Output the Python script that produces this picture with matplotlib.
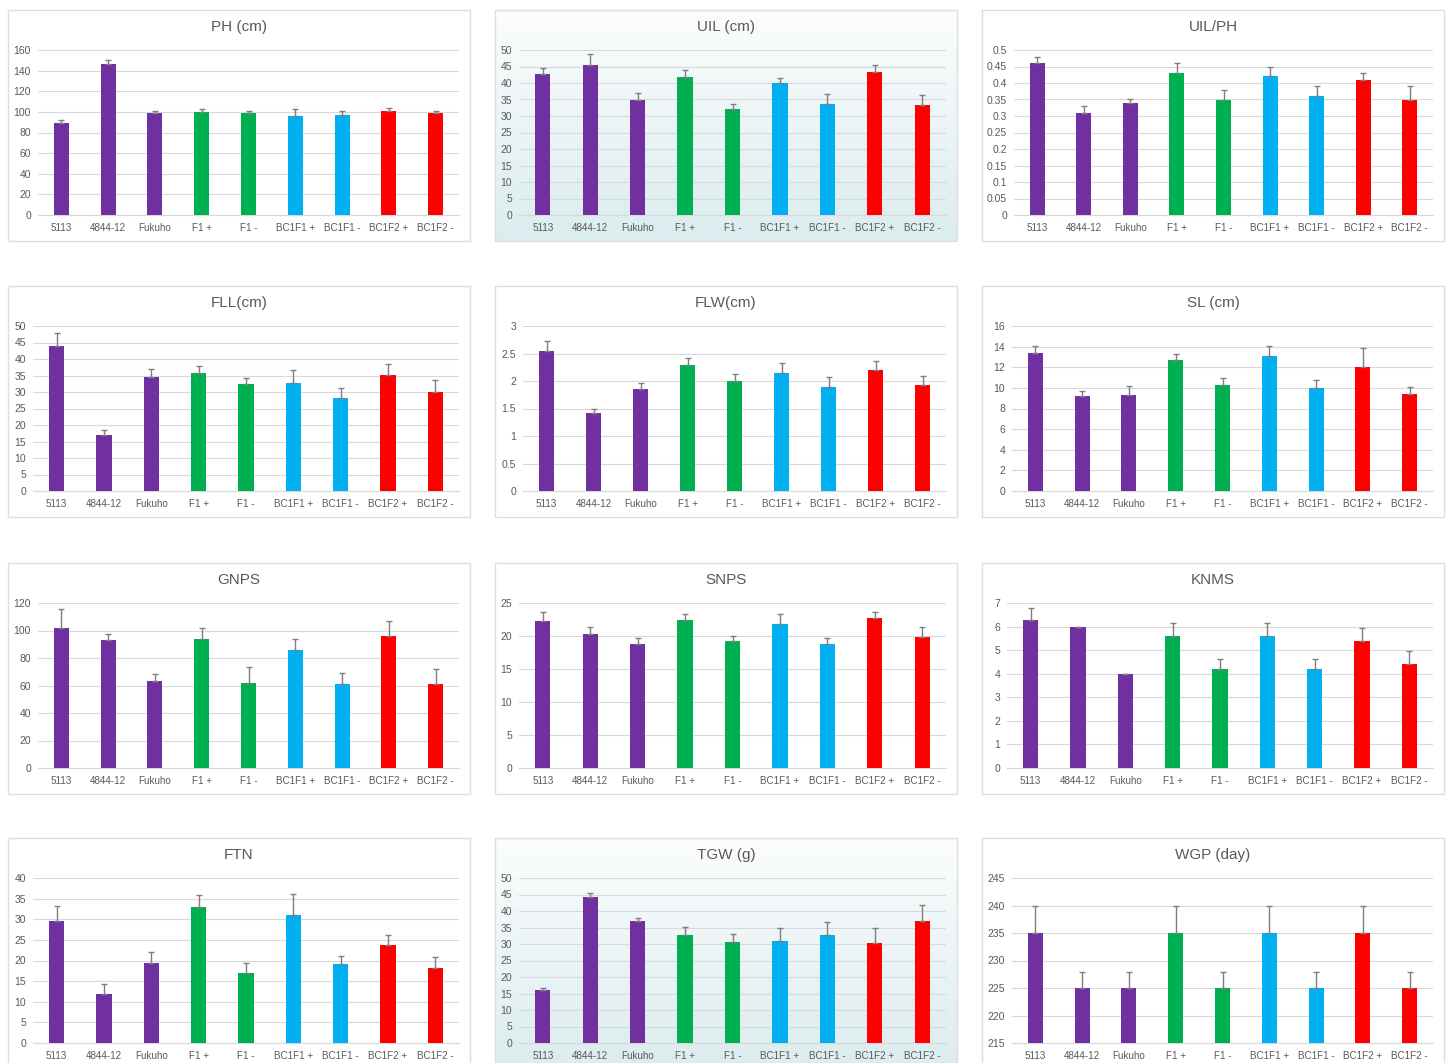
import matplotlib.pyplot as plt
import numpy as np
from matplotlib.colors import LinearSegmentedColormap
from matplotlib.patches import Rectangle

plt.rcParams['font.family'] = ['Liberation Sans', 'DejaVu Sans']

# categories and bar colours
lines = ['5113', '4844-12', 'Fukuho', 'F1 +', 'F1 -',
         'BC1F1 +', 'BC1F1 -', 'BC1F2 +', 'BC1F2 -']
bar_colors = ['#7030A0', '#7030A0', '#7030A0', '#00B050', '#00B050',
              '#00B0F0', '#00B0F0', '#FF0000', '#FF0000']

# means and (upper) standard errors
ph_mean = [89.5, 146.1, 98.6, 100.2, 99.2, 96.3, 97.3, 100.8, 98.9]
ph_err = [2.3, 3.9, 2.2, 2.6, 2.0, 6.2, 3.5, 3.2, 1.9]

uil_mean = [42.7, 45.5, 34.9, 41.9, 32.0, 40.0, 33.6, 43.3, 33.3]
uil_err = [1.9, 3.4, 2.0, 1.9, 1.5, 1.4, 3.0, 2.2, 3.0]

ratio_mean = [0.46, 0.31, 0.34, 0.43, 0.35, 0.42, 0.36, 0.41, 0.35]
ratio_err = [0.02, 0.02, 0.01, 0.03, 0.03, 0.03, 0.03, 0.02, 0.04]

fll_mean = [43.9, 17.0, 34.6, 35.8, 32.5, 32.7, 28.1, 35.3, 30.0]
fll_err = [3.9, 1.6, 2.5, 2.2, 1.8, 4.0, 3.2, 3.3, 3.5]

flw_mean = [2.54, 1.42, 1.85, 2.29, 2.00, 2.15, 1.89, 2.20, 1.92]
flw_err = [0.18, 0.08, 0.11, 0.13, 0.13, 0.17, 0.19, 0.17, 0.18]

sl_mean = [13.35, 9.26, 9.32, 12.74, 10.32, 13.13, 10.0, 12.0, 9.45]
sl_err = [0.75, 0.45, 0.9, 0.55, 0.6, 0.95, 0.8, 1.9, 0.65]

gnps_mean = [102.0, 92.8, 63.0, 93.6, 61.6, 86.0, 60.8, 96.0, 61.3]
gnps_err = [13.6, 4.7, 5.6, 8.2, 11.9, 7.8, 8.3, 10.9, 10.7]

snps_mean = [22.3, 20.35, 18.8, 22.4, 19.2, 21.8, 18.8, 22.8, 19.8]
snps_err = [1.3, 0.95, 0.9, 0.9, 0.8, 1.6, 0.9, 0.8, 1.5]

knms_mean = [6.29, 6.0, 4.0, 5.6, 4.2, 5.6, 4.2, 5.39, 4.4]
knms_err = [0.5, 0.0, 0.0, 0.54, 0.43, 0.55, 0.44, 0.56, 0.55]

ftn_mean = [29.5, 12.0, 19.3, 33.0, 17.0, 31.1, 19.2, 23.7, 18.1]
ftn_err = [3.6, 2.2, 2.7, 2.8, 2.4, 5.0, 2.0, 2.4, 2.8]

tgw_mean = [16.0, 44.2, 37.1, 32.7, 30.5, 30.8, 32.8, 30.2, 36.9]
tgw_err = [0.7, 1.2, 0.9, 2.6, 2.5, 4.2, 3.8, 4.5, 4.9]

wgp_mean = [235, 225, 225, 235, 225, 235, 225, 235, 225]
wgp_err = [5, 3, 3, 5, 3, 5, 3, 5, 3]

# title, means, errors, y-range, tick step, shaded panel, left offset (px)
panels = [
    ('PH (cm)', ph_mean, ph_err, (0, 160), 20, False, 30),
    ('UIL (cm)', uil_mean, uil_err, (0, 50), 5, True, 24),
    ('UIL/PH', ratio_mean, ratio_err, (0, 0.5), 0.05, False, 32),
    ('FLL(cm)', fll_mean, fll_err, (0, 50), 5, False, 25),
    ('FLW(cm)', flw_mean, flw_err, (0, 3), 0.5, False, 28),
    ('SL (cm)', sl_mean, sl_err, (0, 16), 2, False, 30),
    ('GNPS', gnps_mean, gnps_err, (0, 120), 20, False, 30),
    ('SNPS', snps_mean, snps_err, (0, 25), 5, False, 24),
    ('KNMS', knms_mean, knms_err, (0, 7), 1, False, 25),
    ('FTN', ftn_mean, ftn_err, (0, 40), 5, False, 25),
    ('TGW (g)', tgw_mean, tgw_err, (0, 50), 5, True, 24),
    ('WGP (day)', wgp_mean, wgp_err, (215, 245), 5, False, 30),
]

W, H = 1448, 1063
col_x = [8, 495, 982]
row_y = [10, 286, 563, 838]
panel_w, panel_h = 462, 231
grey = '#595959'
grid_c = '#d9d9d9'


def frac(x, y, w, h):
    # pixel box (top-left origin) -> figure fraction
    return [x / W, 1 - (y + h) / H, w / W, h / H]


fig = plt.figure(figsize=(W / 100, H / 100), dpi=100)
shade = LinearSegmentedColormap.from_list('shade', ['#dbecef', '#fcfdfd'])

for i, (title, mean, err, ylim, step, shaded, left) in enumerate(panels):
    px = col_x[i % 3]
    py = row_y[i // 3]

    # panel background + border
    bg = fig.add_axes(frac(px, py, panel_w, panel_h))
    bg.set_xlim(0, 1)
    bg.set_ylim(0, 1)
    bg.axis('off')
    if shaded:
        grad = np.linspace(0, 1, 256).reshape(-1, 1)
        bg.imshow(grad, cmap=shade, aspect='auto', extent=[0, 1, 0, 1],
                  origin='lower')
    bg.add_patch(Rectangle((0, 0), 1, 1, fill=False, edgecolor='#dedede',
                           linewidth=1.0, transform=bg.transAxes, clip_on=False))
    bg.text(0.5, 1 - 17 / panel_h, title, ha='center', va='center',
            fontsize=11, color=grey, transform=bg.transAxes)

    # plot area
    ax = fig.add_axes(frac(px + left, py + 40, 451 - left, 165))
    ax.patch.set_alpha(0)
    x = np.arange(len(lines))
    ax.bar(x, mean, width=0.32, color=bar_colors, zorder=3)
    ax.errorbar(x, mean, yerr=[np.zeros(len(err)), err], fmt='none',
                ecolor='#7f7f7f', elinewidth=1, capsize=2, capthick=1, zorder=4)
    ax.set_xlim(-0.5, len(lines) - 0.5)
    ax.set_ylim(*ylim)
    ticks = np.arange(ylim[0], ylim[1] + step / 2, step)
    ax.set_yticks(ticks)
    ax.set_yticklabels(['{:g}'.format(round(t, 2)) for t in ticks])
    ax.set_xticks(x)
    ax.set_xticklabels(lines)
    ax.yaxis.grid(True, color=grid_c, linewidth=0.8, zorder=0)
    ax.set_axisbelow(True)
    for s in ['top', 'right', 'left']:
        ax.spines[s].set_visible(False)
    ax.spines['bottom'].set_color(grid_c)
    ax.tick_params(length=0, colors=grey)
    ax.tick_params(axis='x', pad=6, labelsize=7.1)
    ax.tick_params(axis='y', pad=5, labelsize=7.5)

fig.savefig('out.png', dpi=100)
